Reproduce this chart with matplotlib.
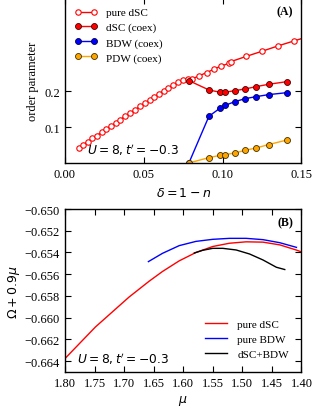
import matplotlib
matplotlib.use("Agg")
import matplotlib.pyplot as plt

plt.rcParams['font.family'] = ['Liberation Serif', 'DejaVu Serif']
plt.rcParams['mathtext.fontset'] = 'dejavusans'
plt.rcParams['xtick.direction'] = 'in'
plt.rcParams['ytick.direction'] = 'in'
plt.rcParams['xtick.top'] = True
plt.rcParams['ytick.right'] = True
plt.rcParams['xtick.major.size'] = 4
plt.rcParams['ytick.major.size'] = 4
plt.rcParams['axes.linewidth'] = 1.0

# panel A: order parameters vs doping
delta_pure = [0.0089, 0.0116, 0.0144, 0.0173, 0.0201, 0.0232, 0.0260, 0.0289, 0.0321,
              0.0351, 0.0380, 0.0412, 0.0444, 0.0475, 0.0507, 0.0537, 0.0566, 0.0596,
              0.0625, 0.0655, 0.0687, 0.0718, 0.0750, 0.0778, 0.0807, 0.0849, 0.0898,
              0.0944, 0.0991, 0.1042, 0.1052, 0.1151, 0.1249, 0.1350, 0.1452, 0.1550]
dsc_pure = [0.0426, 0.0519, 0.0602, 0.0694, 0.0769, 0.0861, 0.0954, 0.1028, 0.1120,
            0.1213, 0.1306, 0.1398, 0.1481, 0.1583, 0.1676, 0.1759, 0.1843, 0.1935,
            0.2019, 0.2102, 0.2176, 0.2250, 0.2325, 0.2330, 0.2345, 0.2426, 0.2519,
            0.2611, 0.2704, 0.2778, 0.2824, 0.2972, 0.3111, 0.3259, 0.3398, 0.3530]

delta_coex = [0.0786, 0.0913, 0.0985, 0.1016, 0.1078, 0.1143, 0.1213, 0.1291, 0.1409]
dsc_coex = [0.2296, 0.2037, 0.1972, 0.1972, 0.2019, 0.2065, 0.2130, 0.2194, 0.2269]
bdw_coex = [0.0009, 0.1306, 0.1537, 0.1611, 0.1713, 0.1796, 0.1852, 0.1907, 0.1963]
pdw_coex = [0.0009, 0.0157, 0.0222, 0.0241, 0.0287, 0.0361, 0.0426, 0.0519, 0.0648]

# panel B: grand potential vs chemical potential
mu_dsc = [1.800, 1.7484, 1.6918, 1.6578, 1.6351, 1.6068, 1.5785, 1.5501, 1.5218,
          1.4935, 1.4651, 1.4368, 1.4085, 1.400]
om_dsc = [-0.66376, -0.66085, -0.65811, -0.65665, -0.65575, -0.65477, -0.65400,
          -0.65345, -0.65315, -0.65302, -0.65305, -0.65330, -0.65378, -0.65395]
mu_bdw = [1.6589, 1.6351, 1.6068, 1.5785, 1.5501, 1.5218, 1.4935, 1.4651, 1.4368, 1.4085]
om_bdw = [-0.65484, -0.65408, -0.65337, -0.65298, -0.65279, -0.65270, -0.65270,
          -0.65282, -0.65310, -0.65353]
mu_mix = [1.5813, 1.5671, 1.5501, 1.5331, 1.5105, 1.4878, 1.4651, 1.4425, 1.4283]
om_mix = [-0.65405, -0.65380, -0.65362, -0.65362, -0.65377, -0.65414, -0.65469,
          -0.65536, -0.65557]

fig = plt.figure(figsize=(3.15, 4.10), dpi=100)

ax1 = fig.add_axes([0.2063, 0.5993, 0.7508, 0.4039])
ax1.plot(delta_pure, dsc_pure, '-o', color='red', mfc='white', mec='red', ms=3.9,
         mew=0.8, lw=1, label='pure dSC')
ax1.plot(delta_coex, dsc_coex, '-o', color='red', mfc='red', mec='#400000', ms=4.3,
         mew=0.6, lw=1, label='dSC (coex)')
ax1.plot(delta_coex, bdw_coex, '-o', color='blue', mfc='blue', mec='#000040', ms=4.3,
         mew=0.6, lw=1, label='BDW (coex)')
ax1.plot(delta_coex, pdw_coex, '-o', color='orange', mfc='orange', mec='#403000', ms=4.3,
         mew=0.6, lw=1, label='PDW (coex)')
ax1.set_xlim(0, 0.15)
ax1.set_ylim(0, 0.46)
ax1.set_xticks([0.0, 0.05, 0.10, 0.15])
ax1.set_xticklabels(['0.00', '0.05', '0.10', '0.15'])
ax1.set_yticks([0.1, 0.2])
ax1.set_yticklabels(['0.1', '0.2'])
ax1.tick_params(labelsize=9)
ax1.set_xlabel(r'$\delta = 1 - n$', fontsize=9, labelpad=4)
ax1.set_ylabel('order parameter', fontsize=9, labelpad=4)
ax1.legend(loc='upper left', bbox_to_anchor=(0.0, 1.0), frameon=False, numpoints=2,
           fontsize=8, handlelength=2.0, handletextpad=0.8, labelspacing=0.45)
ax1.text(0.965, 0.955, '(A)', transform=ax1.transAxes, ha='right', va='top',
         fontsize=8.5, fontweight='bold')
ax1.text(0.095, 0.035, r"$U = 8, t' = -0.3$", transform=ax1.transAxes, ha='left',
         va='bottom', fontsize=8.8)

ax2 = fig.add_axes([0.2063, 0.0902, 0.7508, 0.3976])
ax2.plot(mu_dsc, om_dsc, color='red', lw=1, label='pure dSC')
ax2.plot(mu_bdw, om_bdw, color='blue', lw=1, label='pure BDW')
ax2.plot(mu_mix, om_mix, color='black', lw=1, label='dSC+BDW')
ax2.set_xlim(1.80, 1.40)
ax2.set_ylim(-0.665, -0.650)
mu_ticks = [1.80, 1.75, 1.70, 1.65, 1.60, 1.55, 1.50, 1.45, 1.40]
ax2.set_xticks(mu_ticks)
ax2.set_xticklabels(['%.2f' % v for v in mu_ticks])
yt = [-0.650, -0.652, -0.654, -0.656, -0.658, -0.660, -0.662, -0.664]
ax2.set_yticks(yt)
ax2.set_yticklabels(['\u2212%.3f' % abs(v) for v in yt])
ax2.tick_params(labelsize=9)
ax2.set_xlabel(r'$\mu$', fontsize=9, labelpad=3)
ax2.set_ylabel(r'$\Omega + 0.9\mu$', fontsize=9, labelpad=2)
ax2.legend(loc='lower right', bbox_to_anchor=(0.99, 0.02), frameon=False, fontsize=8,
           handlelength=2.0, handletextpad=0.9, labelspacing=0.47)
ax2.text(0.965, 0.955, '(B)', transform=ax2.transAxes, ha='right', va='top',
         fontsize=8.5, fontweight='bold')
ax2.text(0.05, 0.035, r"$U = 8, t' = -0.3$", transform=ax2.transAxes, ha='left',
         va='bottom', fontsize=8.8)

fig.savefig('out.png', dpi=100)
